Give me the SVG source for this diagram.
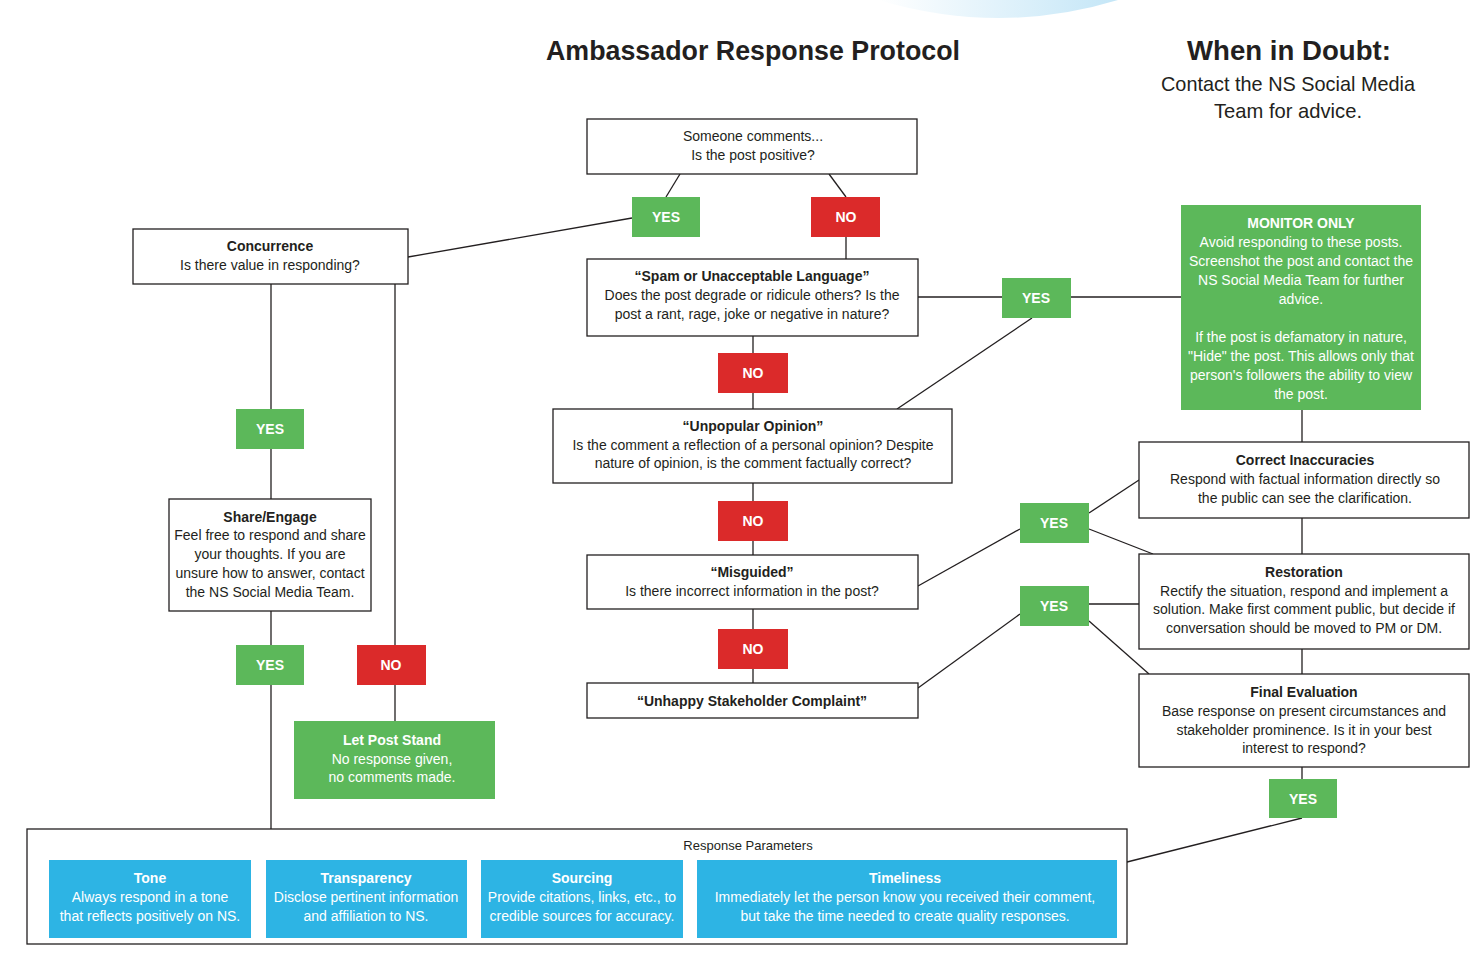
<svg xmlns="http://www.w3.org/2000/svg" width="1478" height="960" viewBox="0 0 1478 960">
<defs>
<linearGradient id="sw" x1="0" y1="0" x2="1" y2="0">
<stop offset="0" stop-color="#ffffff"/>
<stop offset="1" stop-color="#c4e6f7"/>
</linearGradient>
<style>
.box{fill:#ffffff;stroke:#231f20;stroke-width:1.3}
.g{fill:#5cb85a}
.r{fill:#db2a2a}
.b{fill:#2db4e4}
.ln{stroke:#231f20;stroke-width:1.3;fill:none}
text{font-family:"Liberation Sans",Arial,sans-serif;fill:#231f20;text-anchor:middle;font-size:14px}
.t{font-weight:bold}
.w{fill:#ffffff}
.lab{fill:#ffffff;font-weight:bold;font-size:14px}
.big{font-size:27px;font-weight:bold}
.sub{font-size:21px}
.small{font-size:13px}
</style>
</defs>
<rect width="1478" height="960" fill="#ffffff"/>
<path d="M878 0 Q1000 36 1118 0 Z" fill="url(#sw)"/>

<g id="title">
<text x="753" y="60" class="big" textLength="414" lengthAdjust="spacingAndGlyphs">Ambassador Response Protocol</text>
</g>
<g id="doubt">
<text x="1289" y="60" class="big" textLength="204" lengthAdjust="spacingAndGlyphs">When in Doubt:</text>
<text x="1288" y="91" class="sub" textLength="254" lengthAdjust="spacingAndGlyphs">Contact the NS Social Media</text>
<text x="1288" y="118" class="sub" textLength="148" lengthAdjust="spacingAndGlyphs">Team for advice.</text>
</g>

<g id="connectors">
<line class="ln" x1="680" y1="174" x2="666" y2="197"/>
<line class="ln" x1="829" y1="174" x2="846" y2="197"/>
<line class="ln" x1="632" y1="218" x2="408" y2="257"/>
<line class="ln" x1="271" y1="284" x2="271" y2="409"/>
<line class="ln" x1="271" y1="449" x2="271" y2="499"/>
<line class="ln" x1="271" y1="611" x2="271" y2="645"/>
<line class="ln" x1="271" y1="685" x2="271" y2="829"/>
<line class="ln" x1="395" y1="284" x2="395" y2="645"/>
<line class="ln" x1="395" y1="685" x2="395" y2="721"/>
<line class="ln" x1="846" y1="237" x2="846" y2="259"/>
<line class="ln" x1="918" y1="297" x2="1002" y2="297"/>
<line class="ln" x1="1071" y1="297" x2="1181" y2="297"/>
<line class="ln" x1="1032" y1="318" x2="897" y2="409"/>
<line class="ln" x1="753" y1="336" x2="753" y2="353"/>
<line class="ln" x1="753" y1="393" x2="753" y2="409"/>
<line class="ln" x1="753" y1="483" x2="753" y2="501"/>
<line class="ln" x1="753" y1="541" x2="753" y2="555"/>
<line class="ln" x1="753" y1="609" x2="753" y2="629"/>
<line class="ln" x1="753" y1="669" x2="753" y2="683"/>
<line class="ln" x1="918" y1="586" x2="1020" y2="529"/>
<line class="ln" x1="918" y1="688" x2="1020" y2="614"/>
<line class="ln" x1="1089" y1="513" x2="1139" y2="480"/>
<line class="ln" x1="1089" y1="529" x2="1153" y2="554"/>
<line class="ln" x1="1089" y1="604" x2="1139" y2="604"/>
<line class="ln" x1="1089" y1="621" x2="1149" y2="674"/>
<line class="ln" x1="1302" y1="410" x2="1302" y2="442"/>
<line class="ln" x1="1302" y1="518" x2="1302" y2="554"/>
<line class="ln" x1="1302" y1="649" x2="1302" y2="674"/>
<line class="ln" x1="1302" y1="767" x2="1302" y2="779"/>
<line class="ln" x1="1302" y1="818" x2="1127" y2="862"/>
</g>

<g id="start">
<rect class="box" x="587" y="119" width="330" height="55"/>
<text x="753" y="141">Someone comments...</text>
<text x="753" y="160">Is the post positive?</text>
</g>
<g id="yes-positive"><rect class="g" x="632" y="197" width="68" height="40"/><text class="lab" x="666" y="222">YES</text></g>
<g id="no-positive"><rect class="r" x="811" y="197" width="69" height="40"/><text class="lab" x="846" y="222">NO</text></g>

<g id="concurrence">
<rect class="box" x="133" y="229" width="275" height="55"/>
<text class="t" x="270" y="251">Concurrence</text>
<text x="270" y="270">Is there value in responding?</text>
</g>
<g id="yes-value"><rect class="g" x="236" y="409" width="68" height="40"/><text class="lab" x="270" y="434">YES</text></g>
<g id="share">
<rect class="box" x="169" y="499" width="202" height="112"/>
<text class="t" x="270" y="522">Share/Engage</text>
<text x="270" y="540">Feel free to respond and share</text>
<text x="270" y="559">your thoughts. If you are</text>
<text x="270" y="578">unsure how to answer, contact</text>
<text x="270" y="597">the NS Social Media Team.</text>
</g>
<g id="yes-share"><rect class="g" x="236" y="645" width="68" height="40"/><text class="lab" x="270" y="670">YES</text></g>
<g id="no-value"><rect class="r" x="357" y="645" width="69" height="40"/><text class="lab" x="391" y="670">NO</text></g>
<g id="letstand">
<rect class="g" x="294" y="721" width="201" height="78"/>
<text class="t w" x="392" y="745">Let Post Stand</text>
<text class="w" x="392" y="764">No response given,</text>
<text class="w" x="392" y="782">no comments made.</text>
</g>

<g id="spam">
<rect class="box" x="587" y="259" width="331" height="77"/>
<text class="t" x="752" y="281">“Spam or Unacceptable Language”</text>
<text x="752" y="300">Does the post degrade or ridicule others? Is the</text>
<text x="752" y="319">post a rant, rage, joke or negative in nature?</text>
</g>
<g id="yes-spam"><rect class="g" x="1002" y="278" width="69" height="40"/><text class="lab" x="1036" y="303">YES</text></g>
<g id="no-spam"><rect class="r" x="718" y="353" width="70" height="40"/><text class="lab" x="753" y="378">NO</text></g>

<g id="monitor">
<rect class="g" x="1181" y="205" width="240" height="205"/>
<text class="t w" x="1301" y="228">MONITOR ONLY</text>
<text class="w" x="1301" y="247">Avoid responding to these posts.</text>
<text class="w" x="1301" y="266">Screenshot the post and contact the</text>
<text class="w" x="1301" y="285">NS Social Media Team for further</text>
<text class="w" x="1301" y="304">advice.</text>
<text class="w" x="1301" y="342">If the post is defamatory in nature,</text>
<text class="w" x="1301" y="361">"Hide" the post. This allows only that</text>
<text class="w" x="1301" y="380">person's followers the ability to view</text>
<text class="w" x="1301" y="399">the post.</text>
</g>

<g id="unpopular">
<rect class="box" x="553" y="409" width="399" height="74"/>
<text class="t" x="753" y="431">“Unpopular Opinion”</text>
<text x="753" y="450">Is the comment a reflection of a personal opinion? Despite</text>
<text x="753" y="468">nature of opinion, is the comment factually correct?</text>
</g>
<g id="no-unpopular"><rect class="r" x="718" y="501" width="70" height="40"/><text class="lab" x="753" y="526">NO</text></g>

<g id="misguided">
<rect class="box" x="587" y="555" width="331" height="54"/>
<text class="t" x="752" y="577">“Misguided”</text>
<text x="752" y="596">Is there incorrect information in the post?</text>
</g>
<g id="no-misguided"><rect class="r" x="718" y="629" width="70" height="40"/><text class="lab" x="753" y="654">NO</text></g>
<g id="unhappy">
<rect class="box" x="587" y="683" width="331" height="35"/>
<text class="t" x="752" y="706">“Unhappy Stakeholder Complaint”</text>
</g>

<g id="yes-misguided"><rect class="g" x="1020" y="503" width="69" height="40"/><text class="lab" x="1054" y="528">YES</text></g>
<g id="yes-unhappy"><rect class="g" x="1020" y="586" width="69" height="40"/><text class="lab" x="1054" y="611">YES</text></g>

<g id="correct">
<rect class="box" x="1139" y="442" width="330" height="76"/>
<text class="t" x="1305" y="465">Correct Inaccuracies</text>
<text x="1305" y="484">Respond with factual information directly so</text>
<text x="1305" y="503">the public can see the clarification.</text>
</g>
<g id="restoration">
<rect class="box" x="1139" y="554" width="330" height="95"/>
<text class="t" x="1304" y="577">Restoration</text>
<text x="1304" y="596">Rectify the situation, respond and implement a</text>
<text x="1304" y="614">solution. Make first comment public, but decide if</text>
<text x="1304" y="633">conversation should be moved to PM or DM.</text>
</g>
<g id="final">
<rect class="box" x="1139" y="674" width="330" height="93"/>
<text class="t" x="1304" y="697">Final Evaluation</text>
<text x="1304" y="716">Base response on present circumstances and</text>
<text x="1304" y="735">stakeholder prominence. Is it in your best</text>
<text x="1304" y="753">interest to respond?</text>
</g>
<g id="yes-final"><rect class="g" x="1269" y="779" width="68" height="39"/><text class="lab" x="1303" y="804">YES</text></g>

<g id="parameters">
<rect class="box" x="27" y="829" width="1100" height="115"/>
<text x="748" y="850" class="small">Response Parameters</text>
<rect class="b" x="49" y="860" width="202" height="78"/>
<text class="t w" x="150" y="883">Tone</text>
<text class="w" x="150" y="902">Always respond in a tone</text>
<text class="w" x="150" y="921">that reflects positively on NS.</text>
<rect class="b" x="266" y="860" width="201" height="78"/>
<text class="t w" x="366" y="883">Transparency</text>
<text class="w" x="366" y="902">Disclose pertinent information</text>
<text class="w" x="366" y="921">and affiliation to NS.</text>
<rect class="b" x="481" y="860" width="202" height="78"/>
<text class="t w" x="582" y="883">Sourcing</text>
<text class="w" x="582" y="902">Provide citations, links, etc., to</text>
<text class="w" x="582" y="921">credible sources for accuracy.</text>
<rect class="b" x="697" y="860" width="420" height="78"/>
<text class="t w" x="905" y="883">Timeliness</text>
<text class="w" x="905" y="902">Immediately let the person know you received their comment,</text>
<text class="w" x="905" y="921">but take the time needed to create quality responses.</text>
</g>
</svg>
